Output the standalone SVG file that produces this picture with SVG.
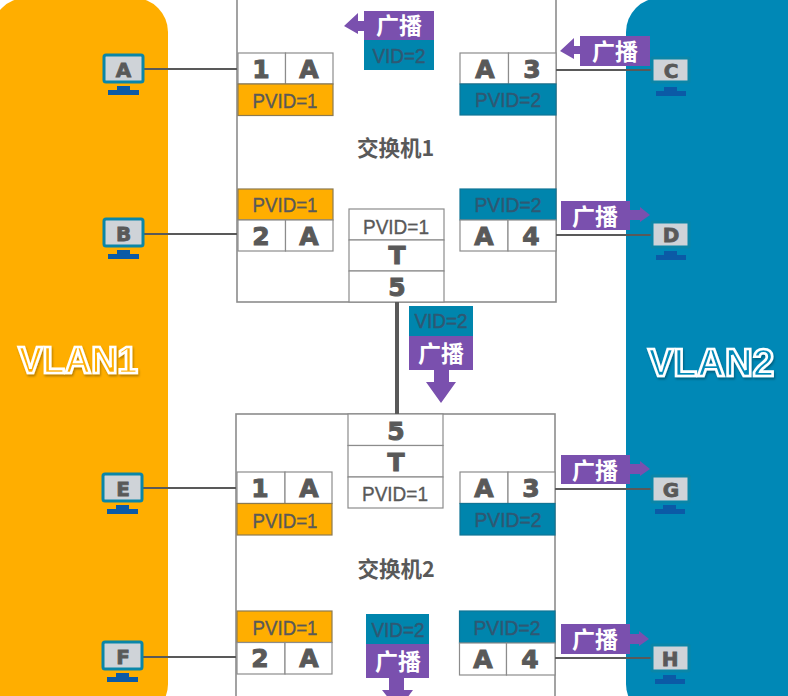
<svg xmlns="http://www.w3.org/2000/svg" width="788" height="696" viewBox="0 0 788 696">
<defs>
<filter id="sh" x="-10%" y="-20%" width="120%" height="150%"><feDropShadow dx="1" dy="2" stdDeviation="1" flood-color="#000" flood-opacity=".3"/></filter>
<style>
.sw{fill:#fff;stroke:#8c8c8c;stroke-width:1.6}
.cell{fill:#fff;stroke:#8c8c8c;stroke-width:1.2}
.or{fill:#ffae00;stroke:#8c7a50;stroke-width:1.2}
.bl{fill:#0085ad;stroke:#0f7596;stroke-width:1.2}
.vid{fill:#0085ad}
.pu{fill:#7a50ae}
.mon{fill:#cfd3d8;stroke:#0a86a8;stroke-width:3}
.st{fill:#0b5aa6}
.link{stroke:#595959;stroke-width:2;fill:none}
text{font-family:"Liberation Sans",Arial,sans-serif;text-anchor:middle}
.big{font-family:"DejaVu Sans",sans-serif;font-weight:700;font-size:25px;fill:#595959;stroke:#595959;stroke-width:1}
.pc{font-family:"DejaVu Sans",sans-serif;font-weight:700;font-size:20px;fill:#595959;stroke:#595959;stroke-width:.8}
.p{font-size:20.5px;fill:#595959;stroke:#595959;stroke-width:.35}
.p2{font-size:20.5px;fill:#2f5873;stroke:#2f5873;stroke-width:.45}
.gb{font-family:"Noto Sans CJK SC",sans-serif;font-weight:700;font-size:23px;fill:#fff}
.nm{font-family:"Noto Sans CJK SC",sans-serif;font-weight:700;font-size:21.500px;fill:#595959}
.vl{font-weight:700;font-size:38.500px;stroke:#fff;stroke-width:2.6}
</style>
</defs>
<rect width="788" height="696" fill="#fff"/>
<g id="vlan1"><rect x="-8" y="-2" width="176" height="720" rx="34" fill="#ffae00"/><text class="vl" x="78" y="373" fill="#ffae00" filter="url(#sh)" style="font-size:36.500px">VLAN1</text></g>
<g id="vlan2"><rect x="626" y="-2" width="200" height="720" rx="34" fill="#0088b6"/><text class="vl" x="711" y="376" fill="#0088b6" filter="url(#sh)">VLAN2</text></g>

<g id="switch1">
<rect class="sw" x="237" y="-20" width="319" height="322"/>
<text class="nm" x="395.500" y="156">交换机1</text>
<g id="s1p1"><rect class="cell" x="238" y="53" width="47.500" height="31"/><rect class="cell" x="285.500" y="53" width="47.500" height="31"/><rect class="or" x="238" y="84" width="95" height="31.500"/><text class="big" x="261" y="78">1</text><text class="big" x="309" y="78">A</text><text class="p" x="285" y="108" textLength="65" lengthAdjust="spacingAndGlyphs">PVID=1</text></g>
<g id="s1p2"><rect class="or" x="238" y="189" width="95" height="31"/><rect class="cell" x="238" y="220" width="47.500" height="31"/><rect class="cell" x="285.500" y="220" width="47.500" height="31"/><text class="p" x="285" y="212" textLength="65" lengthAdjust="spacingAndGlyphs">PVID=1</text><text class="big" x="261" y="245">2</text><text class="big" x="309" y="245">A</text></g>
<g id="s1p3"><rect class="cell" x="460" y="53" width="48.500" height="31"/><rect class="cell" x="508.500" y="53" width="47.500" height="31"/><rect class="bl" x="460" y="84" width="96" height="31"/><text class="big" x="485" y="78">A</text><text class="big" x="532" y="78">3</text><text class="p2" x="508" y="107" textLength="66" lengthAdjust="spacingAndGlyphs">PVID=2</text></g>
<g id="s1p4"><rect class="bl" x="460" y="189" width="96" height="31"/><rect class="cell" x="460" y="220" width="48" height="31"/><rect class="cell" x="508" y="220" width="48" height="31"/><text class="p2" x="508" y="212" textLength="67" lengthAdjust="spacingAndGlyphs">PVID=2</text><text class="big" x="484" y="245">A</text><text class="big" x="531" y="245">4</text></g>
<g id="s1p5"><rect class="cell" x="349" y="209" width="95" height="31"/><rect class="cell" x="349" y="240" width="95" height="31"/><rect class="cell" x="349" y="271" width="95" height="31"/><text class="p" x="396" y="234" textLength="66" lengthAdjust="spacingAndGlyphs">PVID=1</text><text class="big" x="397" y="264">T</text><text class="big" x="397" y="296">5</text></g>
</g>

<g id="switch2">
<rect class="sw" x="236" y="414" width="319" height="320"/>
<text class="nm" x="396" y="577">交换机2</text>
<g id="s2p1"><rect class="cell" x="237" y="472" width="48" height="31.500"/><rect class="cell" x="285" y="472" width="47" height="31.500"/><rect class="or" x="237" y="503.500" width="95" height="31.500"/><text class="big" x="260" y="497">1</text><text class="big" x="309" y="497">A</text><text class="p" x="285" y="528" textLength="65" lengthAdjust="spacingAndGlyphs">PVID=1</text></g>
<g id="s2p2"><rect class="or" x="237" y="611" width="95" height="31.500"/><rect class="cell" x="237" y="642.500" width="48" height="31.500"/><rect class="cell" x="285" y="642.500" width="47" height="31.500"/><text class="p" x="285" y="635" textLength="65" lengthAdjust="spacingAndGlyphs">PVID=1</text><text class="big" x="260" y="667">2</text><text class="big" x="309" y="667">A</text></g>
<g id="s2p3"><rect class="cell" x="460" y="472" width="48" height="31.500"/><rect class="cell" x="508" y="472" width="47" height="31.500"/><rect class="bl" x="460" y="503.500" width="95" height="31.500"/><text class="big" x="484" y="497">A</text><text class="big" x="531" y="497">3</text><text class="p2" x="508" y="527" textLength="67" lengthAdjust="spacingAndGlyphs">PVID=2</text></g>
<g id="s2p4"><rect class="bl" x="459.500" y="611" width="95.500" height="32"/><rect class="cell" x="459.500" y="643" width="47" height="32"/><rect class="cell" x="506.500" y="643" width="48.500" height="32"/><text class="p2" x="507" y="635" textLength="67" lengthAdjust="spacingAndGlyphs">PVID=2</text><text class="big" x="483" y="668">A</text><text class="big" x="530" y="668">4</text></g>
<g id="s2p5"><rect class="cell" x="348" y="414" width="95" height="31.500"/><rect class="cell" x="348" y="445.500" width="95" height="31.500"/><rect class="cell" x="348" y="477" width="95" height="31"/><text class="big" x="396" y="440">5</text><text class="big" x="396" y="471">T</text><text class="p" x="395" y="501" textLength="66" lengthAdjust="spacingAndGlyphs">PVID=1</text></g>
</g>

<g id="connectors">
<path class="link" d="M144 69H237M144 234H237M143 488H236M143 657H236M556 70H653M556 235H653M555 489H653M555 658H652"/>
<path d="M397 302V414" stroke="#595959" stroke-width="4" fill="none"/>
</g>

<g id="pcA"><rect class="mon" x="104" y="55" width="39" height="27" rx="2"/><path class="st" d="M117 86h13v4h9v5h-31v-5h9z"/><text class="pc" x="123.500" y="77">A</text></g>
<g id="pcB"><rect class="mon" x="104" y="219" width="39" height="27" rx="2"/><path class="st" d="M117 250h13v4h9v5h-31v-5h9z"/><text class="pc" x="123.500" y="241">B</text></g>
<g id="pcE"><rect class="mon" x="103" y="474" width="39" height="27" rx="2"/><path class="st" d="M116 505h13v4h9v5h-31v-5h9z"/><text class="pc" x="123" y="496">E</text></g>
<g id="pcF"><rect class="mon" x="103" y="642" width="39" height="27" rx="2"/><path class="st" d="M116 673h13v4h9v5h-31v-5h9z"/><text class="pc" x="123" y="664">F</text></g>
<g id="pcC"><rect class="mon" x="652" y="58" width="37" height="24" rx="1"/><path class="st" d="M664 87h13v4h9v5h-30v-5h8z"/><text class="pc" x="671" y="78">C</text></g>
<g id="pcD"><rect class="mon" x="652" y="222" width="37" height="25" rx="1"/><path class="st" d="M664 251h13v4h9v5h-30v-5h8z"/><text class="pc" x="671" y="242">D</text></g>
<g id="pcG"><rect class="mon" x="652" y="476" width="37" height="26" rx="1"/><path class="st" d="M663 505h13v4h9v5h-30v-5h8z"/><text class="pc" x="671" y="497">G</text></g>
<g id="pcH"><rect class="mon" x="652" y="645" width="37" height="26" rx="1"/><path class="st" d="M663 675h13v4h9v5h-30v-5h8z"/><text class="pc" x="670" y="666">H</text></g>

<g id="bc1"><rect class="pu" x="364" y="11" width="70" height="29"/><path class="pu" d="M364 21h-6v-8l-14 13 14 8v-3h6z"/><rect class="vid" x="364" y="40" width="70" height="30"/><text class="gb" x="399" y="34">广播</text><text class="p2" x="399" y="63" textLength="53" lengthAdjust="spacingAndGlyphs">VID=2</text></g>
<g id="bc2"><rect class="pu" x="580" y="36" width="70" height="30"/><path class="pu" d="M580 46h-6v-8l-14 13 14 8v-5h6z"/><text class="gb" x="615" y="60">广播</text></g>
<g id="bc3"><rect class="pu" x="561" y="201" width="69" height="29"/><path class="pu" d="M630 210h10v-3l10 8-10 7v-2h-10z"/><text class="gb" x="595" y="225">广播</text></g>
<g id="bc4"><rect class="pu" x="561" y="455" width="69" height="29"/><path class="pu" d="M630 464h10v-3l10 8-10 7v-2h-10z"/><text class="gb" x="595" y="479">广播</text></g>
<g id="bc5"><rect class="pu" x="561" y="624" width="69" height="30"/><path class="pu" d="M630 634h9v-3l10 8-10 7v-2h-9z"/><text class="gb" x="595" y="648">广播</text></g>
<g id="bc6"><rect class="vid" x="409" y="306" width="64" height="30"/><rect class="pu" x="409" y="336" width="64" height="34"/><path class="pu" d="M434 370h15v12h7l-15 21-15-21h8z"/><text class="p2" x="441" y="328" textLength="53" lengthAdjust="spacingAndGlyphs">VID=2</text><text class="gb" x="441" y="362">广播</text></g>
<g id="bc7"><rect class="vid" x="366" y="614" width="63" height="30"/><rect class="pu" x="366" y="644" width="63" height="34"/><path class="pu" d="M389 678h15v12h9l-15 20-16-20h7z"/><text class="p2" x="398" y="637" textLength="53" lengthAdjust="spacingAndGlyphs">VID=2</text><text class="gb" x="398" y="670">广播</text></g>
</svg>
